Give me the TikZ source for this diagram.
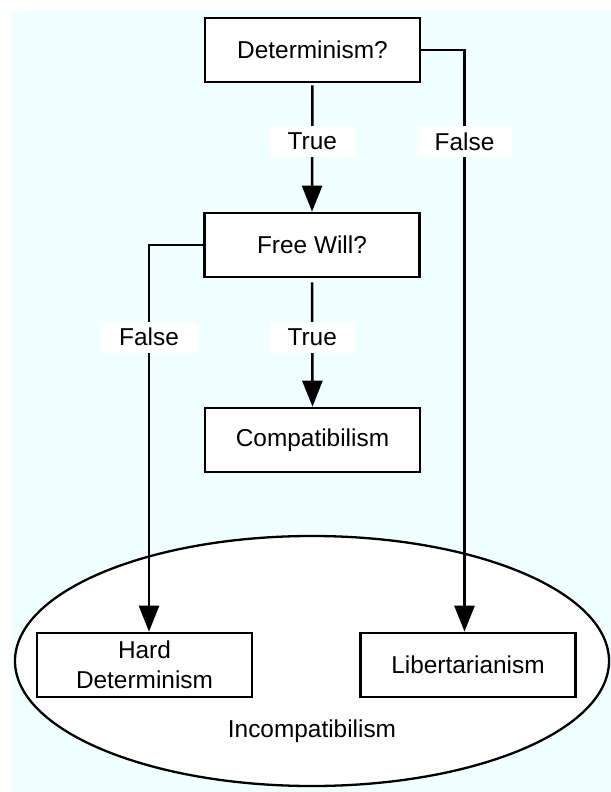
\documentclass[tikz,border=0pt]{standalone}
\usepackage{fontspec}
\setmainfont{Liberation Sans}
\usetikzlibrary{arrows.meta,shapes.geometric}
\definecolor{bgcyan}{HTML}{F0FFFF}
\tikzset{
  box/.style={draw, line width=2.6bp, fill=white, minimum width=215bp, minimum height=64bp, inner sep=0pt, align=center, font=\fontsize{24.5}{30}\selectfont},
  lbl/.style={fill=white, inner xsep=18bp, inner ysep=0pt, minimum height=31bp, font=\fontsize{24.5}{30}\selectfont},
  conn/.style={line width=2.5bp},
  arr/.style={conn, -{Triangle[length=26bp, width=20bp]}},
  plain/.style={font=\fontsize{24.5}{30}\selectfont},
  setell/.style={draw, line width=2.3bp, fill=white, ellipse, minimum width=594bp, minimum height=250bp, inner sep=0pt},
}
\begin{document}
\begin{tikzpicture}[x=1bp, y=-1bp]
\useasboundingbox (0,0) rectangle (611,792);
\fill[bgcyan] (11,11) rectangle (611,792);
% ellipse
\node[setell] (incell) at (312,661) {};
\node[plain] (inc) at (312,731) {Incompatibilism};
% boxes
\node[box] (det) at (312.5,50) {Determinism?};
\node[box] (fw) at (312,245) {Free Will?};
\node[box] (comp) at (312.5,440) {Compatibilism};
\node[box] (hard) at (144.5,665) {Hard\\Determinism};
\node[box] (lib) at (468,665) {Libertarianism};
% connectors
\draw[arr, shorten <=2bp] (det.south) -- node[lbl, pos=0.45] (t1) {True} (fw.north);
\coordinate (libin) at ([xshift=-3.5bp]lib.north);
\draw[arr] (det.east) -| node[lbl, pos=0.579] (f1) {False} (libin);
\coordinate (hardin) at ([xshift=4.5bp]hard.north);
\draw[arr] (fw.west) -| node[lbl, pos=0.619] (f2) {False} (hardin);
\draw[arr, shorten <=4bp] (fw.south) -- node[lbl, pos=0.46] (t2) {True} (comp.north);
\end{tikzpicture}
\end{document}
